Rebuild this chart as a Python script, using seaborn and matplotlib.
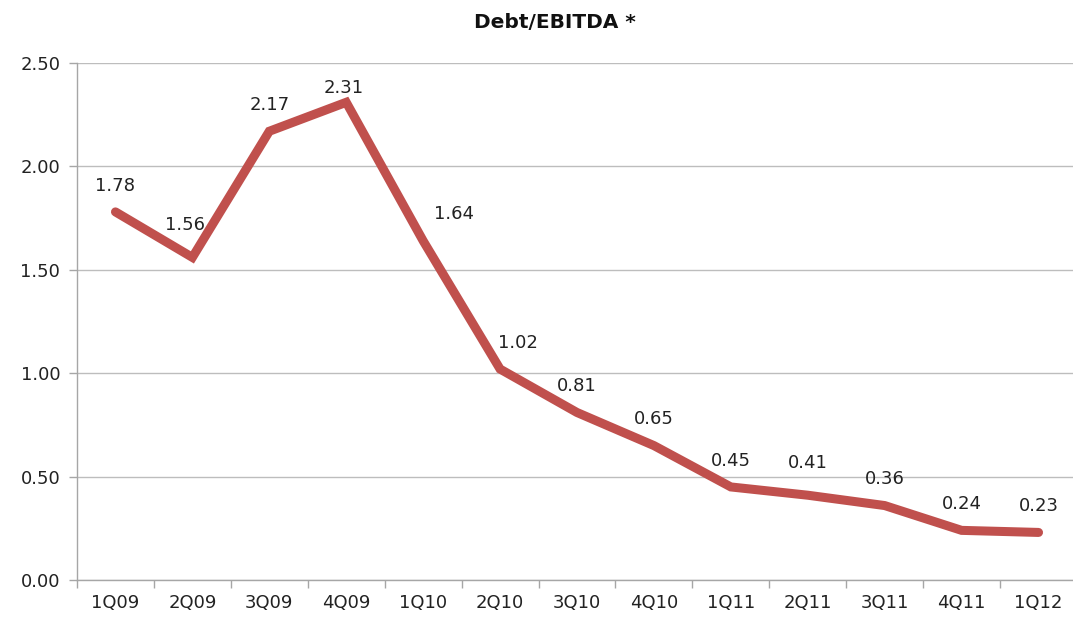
import numpy as np
import pandas as pd
import seaborn as sns
import matplotlib
matplotlib.use('Agg')
import matplotlib.pyplot as plt

quarters = ['1Q09', '2Q09', '3Q09', '4Q09', '1Q10', '2Q10', '3Q10',
            '4Q10', '1Q11', '2Q11', '3Q11', '4Q11', '1Q12']
debt_ebitda = [1.78, 1.56, 2.17, 2.31, 1.64, 1.02, 0.81,
               0.65, 0.45, 0.41, 0.36, 0.24, 0.23]
y_ticks = [0.0, 0.5, 1.0, 1.5, 2.0, 2.5]

sns.set_theme(style='white')
plt.rcParams['font.family'] = ['DejaVu Sans']

df = pd.DataFrame({'quarter': quarters, 'value': debt_ebitda})

fig = plt.figure(figsize=(10.73, 6.24), dpi=100, facecolor='white')
ax = fig.add_axes([77 / 1073, 1 - 580 / 624, 1000 / 1073, 517 / 624])

sns.lineplot(data=df, x='quarter', y='value', ax=ax, color='#C0504D',
             linewidth=6.5, solid_joinstyle='miter', solid_capstyle='round',
             sort=False)

# Axis limits and grid
ax.set_xlim(-0.5, len(quarters) - 0.5)
ax.set_ylim(0, 2.5)
ax.set_yticks(y_ticks)
ax.set_yticklabels([f'{v:.2f}' for v in y_ticks])
ax.yaxis.grid(True, color='#BDBDBD', linewidth=1)
ax.xaxis.grid(False)
ax.set_xlabel('')
ax.set_ylabel('')

# Tick marks between categories
ax.set_xticks(np.arange(len(quarters)))
ax.set_xticklabels(quarters)
ax.set_xticks(np.arange(-0.5, len(quarters), 1), minor=True)
ax.tick_params(axis='x', which='major', length=0, pad=10, labelsize=13,
               labelcolor='#222222')
ax.tick_params(axis='x', which='minor', length=6, width=1, color='#A6A6A6',
               direction='out', bottom=True)
ax.tick_params(axis='y', which='major', length=6, width=1, color='#A6A6A6',
               direction='out', left=True, pad=6, labelsize=13,
               labelcolor='#222222')

for side in ['top', 'right']:
    ax.spines[side].set_visible(False)
for side in ['left', 'bottom']:
    ax.spines[side].set_color('#A6A6A6')
    ax.spines[side].set_linewidth(1)

# Data labels (a few nudged as in the original)
nudge = {1: (-5, 23), 3: (-2, 10), 4: (22, 19), 5: (13, 19), 9: (0, 23)}
for i, v in enumerate(debt_ebitda):
    dx, dy = nudge.get(i, (0, 19))
    ax.annotate(f'{v:.2f}', (i, v), xytext=(dx, dy),
                textcoords='offset points', ha='center', va='center',
                fontsize=13, color='#222222')

fig.text(555 / 1073, 1 - 23 / 624, 'Debt/EBITDA *', ha='center',
         va='center', fontsize=14.5, fontweight='bold', color='#111111')

fig.savefig('out.png', dpi=100, facecolor='white')
